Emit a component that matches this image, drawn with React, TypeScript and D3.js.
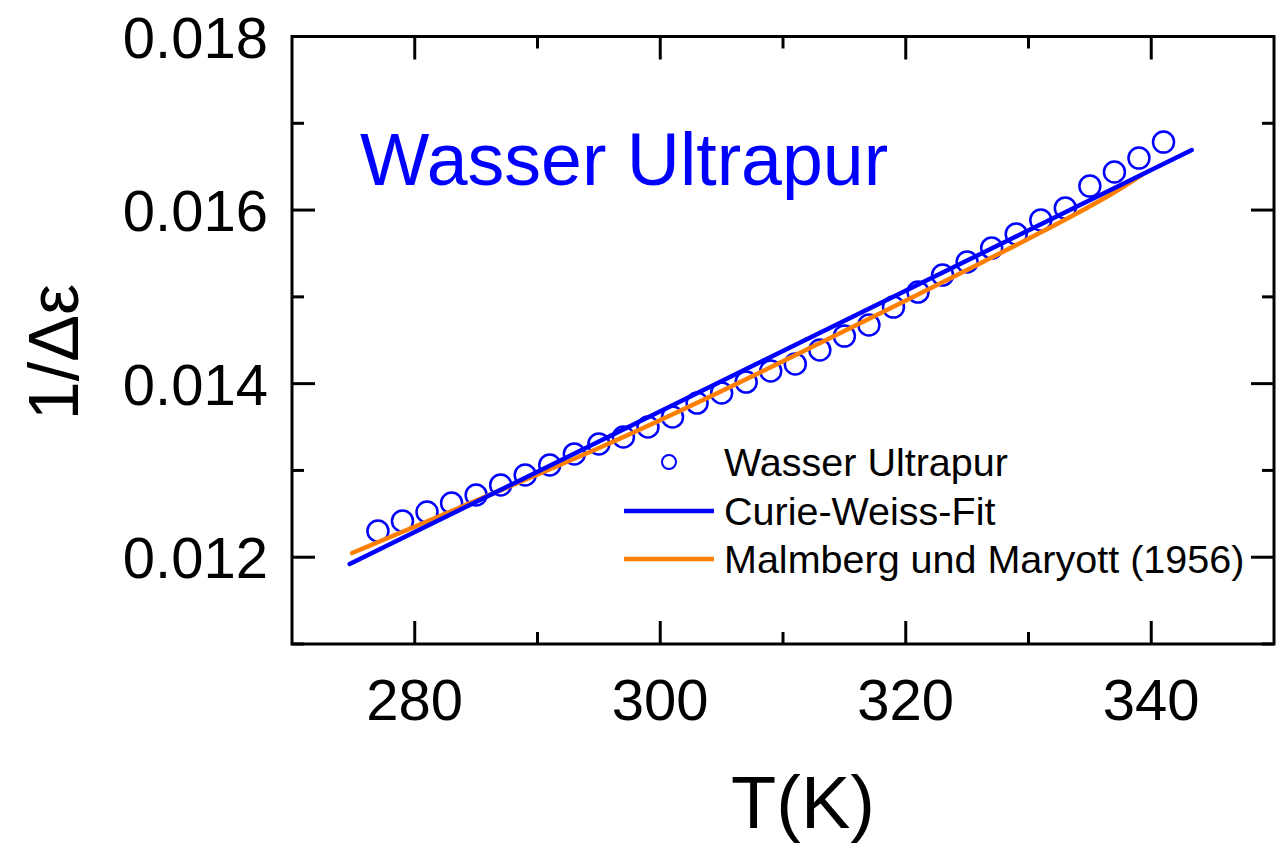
import React from "react";
import * as d3 from "d3";

const temperatures = [277, 279, 281, 283, 285, 287, 289, 291, 293, 295, 297, 299, 301, 303, 305, 307, 309, 311, 313, 315, 317, 319, 321, 323, 325, 327, 329, 331, 333, 335, 337, 339, 341];
const inverseDelta = [0.012302, 0.012417, 0.012521, 0.012624, 0.012717, 0.012832, 0.012947, 0.013062, 0.013189, 0.013304, 0.013385, 0.0135, 0.013615, 0.013776, 0.013892, 0.014018, 0.014145, 0.014226, 0.014387, 0.014548, 0.014675, 0.014882, 0.015055, 0.015251, 0.015401, 0.015562, 0.015724, 0.015885, 0.016023, 0.016276, 0.016438, 0.016599, 0.016783];

const fitT = [274.7, 343.3];
const fitV = [0.011922, 0.016691];

const malmbergT = [274.9, 295.0, 309.7, 330.9, 339.2];
const malmbergV = [0.012048, 0.013258, 0.014237, 0.015735, 0.016403];

const xMajor = [280, 300, 320, 340];
const xMinor = [290, 310, 330];
const yMajor = [0.012, 0.014, 0.016, 0.018];
const yMinor = [0.011, 0.013, 0.015, 0.017];

const legendLabels = ["Wasser Ultrapur", "Curie-Weiss-Fit", "Malmberg und Maryott (1956)"];

const FONT = "'Liberation Sans', Arial, Helvetica, sans-serif";
const BLUE = "#0000ff";
const ORANGE = "#ff8000";

export default function App() {
  const left = 292, right = 1274, top = 36.5, bottom = 644;
  const x = d3.scaleLinear().domain([270, 350]).range([left, right]);
  const y = d3.scaleLinear().domain([0.011, 0.018]).range([bottom, top]);

  const line = d3.line<[number, number]>().x(d => x(d[0])).y(d => y(d[1]));
  const curve = d3.line<[number, number]>().x(d => x(d[0])).y(d => y(d[1])).curve(d3.curveNatural);

  const fitPts = fitT.map((t, i) => [t, fitV[i]] as [number, number]);
  const malPts = malmbergT.map((t, i) => [t, malmbergV[i]] as [number, number]);

  const majLen = 23, minLen = 12;

  return (
    <svg width={1281} height={845} style={{ position: "absolute", left: 0, top: 0, display: "block", background: "#fff" }} fontFamily={FONT}>
      {temperatures.map((t, i) => (
        <circle key={i} cx={x(t)} cy={y(inverseDelta[i])} r={10.5} fill="none" stroke={BLUE} strokeWidth={2.5} />
      ))}
      <path d={curve(malPts) || ""} fill="none" stroke={ORANGE} strokeWidth={4.5} strokeLinecap="round" />
      <path d={line(fitPts) || ""} fill="none" stroke={BLUE} strokeWidth={4.5} strokeLinecap="round" />

      <rect x={left} y={top} width={right - left} height={bottom - top} fill="none" stroke="#000" strokeWidth={3} />

      {xMajor.map(v => (
        <g key={"xM" + v}>
          <line x1={x(v)} x2={x(v)} y1={bottom} y2={bottom - majLen} stroke="#000" strokeWidth={3} />
          <line x1={x(v)} x2={x(v)} y1={top} y2={top + majLen} stroke="#000" strokeWidth={3} />
          <text x={x(v)} y={720} fontSize={58} textAnchor="middle" fill="#000">{v}</text>
        </g>
      ))}
      {xMinor.map(v => (
        <g key={"xm" + v}>
          <line x1={x(v)} x2={x(v)} y1={bottom} y2={bottom - minLen} stroke="#000" strokeWidth={3} />
          <line x1={x(v)} x2={x(v)} y1={top} y2={top + minLen} stroke="#000" strokeWidth={3} />
        </g>
      ))}

      {yMajor.map(v => (
        <g key={"yM" + v}>
          <line x1={left} x2={left + majLen} y1={y(v)} y2={y(v)} stroke="#000" strokeWidth={3} />
          <line x1={right} x2={right - majLen} y1={y(v)} y2={y(v)} stroke="#000" strokeWidth={3} />
          <text x={268} y={y(v) + 21} fontSize={58} textAnchor="end" fill="#000">{d3.format(".3f")(v)}</text>
        </g>
      ))}
      {yMinor.map(v => (
        <g key={"ym" + v}>
          <line x1={left} x2={left + minLen} y1={y(v)} y2={y(v)} stroke="#000" strokeWidth={3} />
          <line x1={right} x2={right - minLen} y1={y(v)} y2={y(v)} stroke="#000" strokeWidth={3} />
        </g>
      ))}

      <text x={803} y={828} fontSize={74} textAnchor="middle" fill="#000">T(K)</text>
      <text transform={`translate(78, 352) rotate(-90)`} fontSize={70} textAnchor="middle" fill="#000">1/Δε</text>

      <text x={360} y={185} fontSize={73.5} fill={BLUE}>Wasser Ultrapur</text>

      <circle cx={669} cy={462} r={7} fill="none" stroke={BLUE} strokeWidth={2} />
      <line x1={624} x2={714} y1={511} y2={511} stroke={BLUE} strokeWidth={4.5} />
      <line x1={624} x2={714} y1={559} y2={559} stroke={ORANGE} strokeWidth={4.5} />
      {legendLabels.map((lab, i) => (
        <text key={lab} x={724} y={476 + i * 48.5} fontSize={39.5} fill="#000">{lab}</text>
      ))}
    </svg>
  );
}
